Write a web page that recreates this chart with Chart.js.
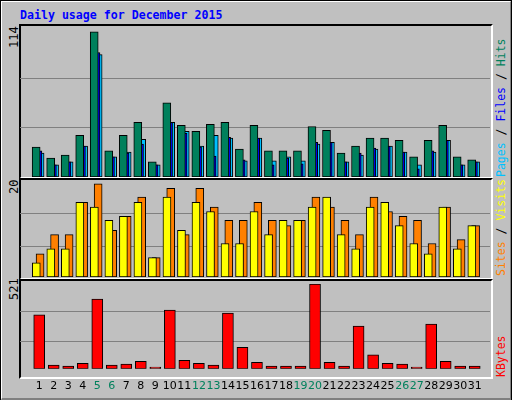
<!DOCTYPE html>
<html><head><meta charset="utf-8">
<script src="https://cdn.jsdelivr.net/npm/chart.js@4"></script>
<style>
body{margin:0;background:#fff}
#wrap{position:absolute;left:0;top:0;width:508px;height:396px;background:#c0c0c0;border-left:2px solid #fff;border-top:2px solid #fff;border-right:2px solid #808080;border-bottom:4px solid #808080;outline:1px solid #000;outline-offset:-1px}
.panel{position:absolute;left:19px;width:470px;border-top:2px solid #000;border-left:2px solid #000;border-right:2px solid #fff;border-bottom:2px solid #fff}
canvas{position:absolute}
.t{position:absolute;font-family:"DejaVu Sans Mono",monospace;white-space:nowrap}
.rot{transform-origin:0 0;transform:rotate(-90deg)}
</style></head><body>
<div id="wrap"></div>
<div class="panel" style="top:24px;height:151px"></div>
<div class="panel" style="top:178px;height:98px"></div>
<div class="panel" style="top:279px;height:96px"></div>
<div class="t" style="left:20px;top:8px;font-size:11.6px;font-weight:bold;color:#0000ff">Daily usage for December 2015</div>
<div class="t rot" style="left:7px;top:48px;font-size:12px">114</div>
<div class="t rot" style="left:7px;top:194px;font-size:12px">20</div>
<div class="t rot" style="left:7px;top:300px;font-size:12px">521</div>
<div class="t rot" style="left:494px;top:177px;font-size:11.5px"><span style="color:#00c0ff">Pages</span> / <span style="color:#0000ff">Files</span> / <span style="color:#00805c">Hits</span></div>
<div class="t rot" style="left:494px;top:276px;font-size:11.5px"><span style="color:#ff8000">Sites</span> / <span style="color:#ffff00">Visits</span></div>
<div class="t rot" style="left:494px;top:377px;font-size:11.5px;color:#ff0000">KBytes</div>
<canvas id="c1" style="left:20px;top:26px;width:470px;height:151px"></canvas>
<canvas id="c2" style="left:20px;top:180px;width:470px;height:97px"></canvas>
<canvas id="c3" style="left:20px;top:284px;width:470px;height:112px"></canvas>
<script>
const days=[1,2,3,4,5,6,7,8,9,10,11,12,13,14,15,16,17,18,19,20,21,22,23,24,25,26,27,28,29,30,31];
const weekend=[5,6,12,13,19,20,26,27];
const hits=[23,14.6,16.9,32,111.5,20,32,41.9,11.6,57,39.6,35,40.4,41.9,21.4,39.6,20,20,20,38.8,35.8,18.4,23.7,29.8,29.8,28.2,15.4,28.2,39.6,15.4,13.1];
const files=[20,9.3,11.6,23.7,95.6,15.4,18.4,25.2,9.3,41.9,33.5,23,16.1,30.5,13.1,29.8,9.3,14.6,10.1,26.7,26.7,11.6,18.4,22.2,23.7,19.2,6.3,20,28.2,9.3,11.6];
const pages=[18.4,9.3,11.6,23.7,94,15.4,19.2,29,9.3,41.9,35,23.7,32,29.8,12.4,29.8,12.4,15.4,12.4,25.2,26.7,11.6,16.9,21.4,23.7,19.2,9.3,19.2,28.2,9.3,11.6];
const visits=[2.9,5.8,5.8,15.4,14.4,11.7,12.5,15.4,4,16.5,9.6,15.4,13.5,6.9,6.9,13.5,8.75,11.7,11.7,14.4,16.5,8.75,5.8,14.4,15.4,10.6,6.9,4.8,14.4,5.8,10.6];
const sites=[4.8,8.75,8.75,15.4,19.2,9.6,12.5,16.5,4,18.3,8.75,18.3,14.4,11.7,11.7,15.4,11.7,10.6,11.7,16.5,14.4,11.7,8.75,16.5,13.5,12.5,11.7,6.9,14.4,7.7,10.6];
const kbytes=[332,23,17,34,429,23,29,46,11,361,52,34,23,343,132,40,17,17,17,521,40,17,263,86,34,29,11,275,46,17,17];
const gridTop=[38,76],gridMid=[6.25,13.1],gridBot=[166,355];

function pts(vals,off){return vals.map((v,i)=>({x:days[i]+off,y:v}));}
function ds(vals,off,color,w){return{data:pts(vals,off),grouped:false,backgroundColor:color,borderColor:"#000",borderWidth:1,borderSkipped:false,barThickness:w};}

function makeChart(id,datasets,ymax,grid,showX){
new Chart(document.getElementById(id),{
type:"bar",
data:{datasets:datasets},
options:{
animation:false,responsive:false,maintainAspectRatio:false,
layout:{padding:0},
plugins:{legend:{display:false},tooltip:{enabled:false}},
scales:{
x:{type:"linear",min:0.2,max:31.53,display:showX,
grid:{display:false},border:{display:false},
afterBuildTicks:s=>{s.ticks=days.map(d=>({value:d}));},
ticks:{autoSkip:false,maxRotation:0,padding:3,font:{family:"DejaVu Sans",size:11},
color:c=>weekend.includes(c.tick.value)?"#00805c":"#000"}},
y:{min:0,max:ymax,
afterBuildTicks:s=>{s.ticks=grid.map(v=>({value:v}));},
afterFit:s=>{s.width=0;},
ticks:{display:false},border:{display:false},
grid:{color:"#808080",lineWidth:1,drawTicks:false}}
}
}
});
}
function sizeCanvas(id,w,h){const c=document.getElementById(id);c.width=w;c.height=h;}
sizeCanvas("c1",470,151);sizeCanvas("c2",470,97);sizeCanvas("c3",470,112);

makeChart("c1",[ds(hits,-0.21,"#00805c",8),ds(files,-0.09,"#0000ff",8),ds(pages,0.06,"#00c0ff",8)],114*150.5/148,gridTop,false);
makeChart("c2",[ds(visits,-0.2,"#ffff00",8),ds(sites,0.06,"#ff8000",8)],20,gridMid,false);
makeChart("c3",[ds(kbytes,0,"#ff0000",11)],521,gridBot,true);
</script>
</body></html>
